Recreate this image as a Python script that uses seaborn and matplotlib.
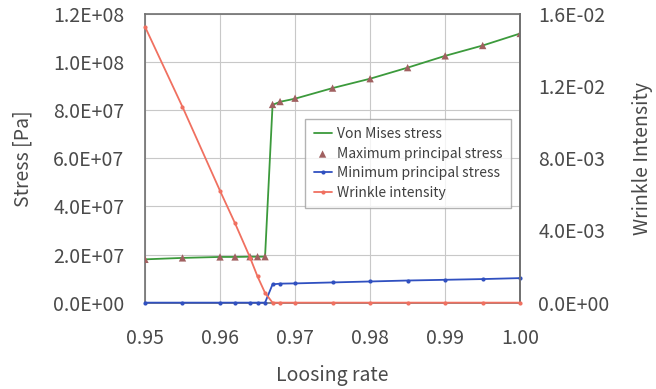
#!/usr/bin/env python
# -*- coding: utf-8 -*-
"""
Stress and wrinkle intensity against loosing rate
"""
import pandas
import matplotlib
matplotlib.use('Agg')
import matplotlib.pyplot as plt
import seaborn

loosing_rate = [0.95, 0.955, 0.96, 0.962, 0.964, 0.965, 0.966, 0.967,
                0.968, 0.97, 0.975, 0.98, 0.985, 0.99, 0.995, 1.0]
von_mises = [1.80e7, 1.86e7, 1.90e7, 1.90e7, 1.91e7, 1.91e7, 1.91e7, 8.22e7,
             8.35e7, 8.48e7, 8.92e7, 9.31e7, 9.77e7, 1.026e8, 1.069e8, 1.119e8]
max_principal = [1.80e7, 1.86e7, 1.90e7, 1.90e7, 1.91e7, 1.91e7, 1.91e7, 8.24e7,
                 8.36e7, 8.50e7, 8.92e7, 9.31e7, 9.77e7, 1.026e8, 1.069e8, 1.119e8]
min_principal = [0, 0, 0, 0, 0, 0, 0, 7.6e6,
                 7.9e6, 8.0e6, 8.4e6, 8.8e6, 9.2e6, 9.5e6, 9.8e6, 1.02e7]
wrinkle = [0.0153, 0.01085, 0.0062, 0.0044, 0.0025, 0.00145, 0.00054, 0,
           0, 0, 0, 0, 0, 0, 0, 0]

df = pandas.DataFrame({'rate': loosing_rate, 'vm': von_mises, 'smax': max_principal,
                       'smin': min_principal, 'wrinkle': wrinkle})

seaborn.set_theme(style="white")
plt.rcParams['font.family'] = ['Noto Sans CJK JP', 'DejaVu Sans']
txt = '#4a4a4a'

f = plt.figure(figsize=(6.56, 3.89), dpi=100)
ax = f.add_axes([0.221, 0.222, 0.572, 0.742])
ax2 = ax.twinx()

seaborn.lineplot(data=df, x='rate', y='vm', ax=ax, color='#3c9a3c', lw=1.3,
                 label='Von Mises stress', zorder=3)
seaborn.scatterplot(data=df, x='rate', y='smax', ax=ax, color='#a06060', marker='^',
                    s=28, edgecolor='none', label='Maximum principal stress', zorder=4)
seaborn.lineplot(data=df, x='rate', y='smin', ax=ax, color='#3050c0', lw=1.3,
                 marker='o', markersize=3, markeredgewidth=0,
                 label='Minimum principal stress', zorder=3, clip_on=False)
seaborn.lineplot(data=df, x='rate', y='wrinkle', ax=ax2, color='#f07060', lw=1.3,
                 marker='o', markersize=3, markeredgewidth=0, label='Wrinkle intensity',
                 zorder=3, clip_on=False)

ax.set_xlim(0.95, 1.0)
ax.set_ylim(0, 1.2e8)
ax2.set_ylim(0, 0.016)
ax.set_xticks([0.95, 0.96, 0.97, 0.98, 0.99, 1.00])
ax.set_xticklabels(['0.95', '0.96', '0.97', '0.98', '0.99', '1.00'])
ax.set_yticks([i * 2e7 for i in range(7)])
ax.set_yticklabels(['0.0E+00', '2.0E+07', '4.0E+07', '6.0E+07', '8.0E+07',
                    '1.0E+08', '1.2E+08'])
ax2.set_yticks([0, 0.004, 0.008, 0.012, 0.016])
ax2.set_yticklabels(['0.0E+00', '4.0E-03', '8.0E-03', '1.2E-02', '1.6E-02'])

ax.grid(True, color='#c8c8c8', lw=0.8)
for a in (ax, ax2):
    a.tick_params(labelsize=14, colors=txt, length=0, pad=13)
    for s in a.spines.values():
        s.set_color('#707070')
        s.set_linewidth(1.2)
ax.tick_params(axis='y', pad=15)
ax.tick_params(axis='x', pad=18)
for side in ('left', 'bottom', 'top'):
    ax2.spines[side].set_visible(False)

ax.set_xlabel('Loosing rate', fontsize=14, color=txt, labelpad=12)
ax.set_ylabel('Stress [Pa]', fontsize=14, color=txt, labelpad=14)
ax2.set_ylabel('Wrinkle Intensity', fontsize=14, color=txt, labelpad=16)

h1, l1 = ax.get_legend_handles_labels()
h2, l2 = ax2.get_legend_handles_labels()
ax2.get_legend().remove()
ax.get_legend().remove()
leg = ax2.legend(h1 + h2, l1 + l2, loc='upper left', bbox_to_anchor=(0.427, 0.637),
                 borderaxespad=0, fontsize=10, frameon=True, fancybox=False,
                 handlelength=1.3, handletextpad=0.4, labelspacing=0.4, borderpad=0.6)
leg.get_frame().set_edgecolor('#a0a0a0')
for t in leg.get_texts():
    t.set_color('#404040')

f.savefig('out.png', dpi=100)
plt.close()
